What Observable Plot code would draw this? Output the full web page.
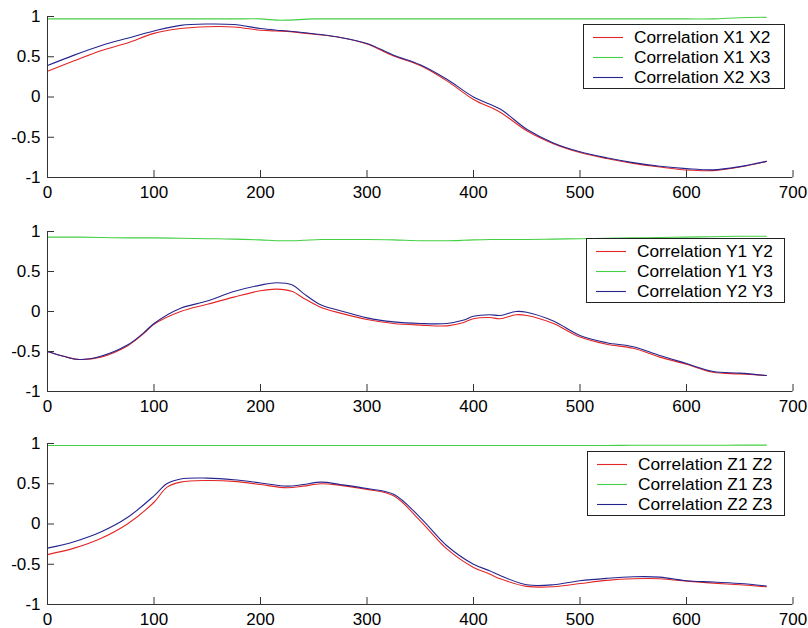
<!DOCTYPE html>
<html><head><meta charset="utf-8">
<script src="https://cdn.jsdelivr.net/npm/d3@7"></script>
<script src="https://cdn.jsdelivr.net/npm/@observablehq/plot@0.6"></script>
<style>
body{margin:0;background:#fff;font-family:"Liberation Sans",Arial,sans-serif;}
#chart{position:relative;width:808px;height:628px;overflow:hidden}
.panel{position:relative;width:808px;}
.panel > svg{display:block}
.legend{position:absolute;border:1px solid #222;background:#fff;box-sizing:border-box;font-size:17.3px;padding-top:2px;color:#000}
.row{height:20px;display:flex;align-items:center;white-space:nowrap}
.row svg{display:block;margin-left:9px;margin-right:11px}
</style></head><body><div id="chart"></div><script>
// ---- tick labels ----
const xTicks = [0, 100, 200, 300, 400, 500, 600, 700];
const yTicks = [-1, -0.5, 0, 0.5, 1];

// ---- panel X ----
const xX = [0,25,50,75,100,125,150,175,200,215,225,250,275,300,325,350,375,400,425,450,475,500,525,550,575,600,625,650,675];
const corrX1X2 = [0.32,0.45,0.575,0.67,0.79,0.85,0.873,0.87,0.83,0.82,0.815,0.78,0.74,0.658,0.51,0.39,0.20,-0.03,-0.19,-0.42,-0.58,-0.69,-0.765,-0.825,-0.87,-0.907,-0.915,-0.87,-0.80];
const corrX1X3 = [0.97,0.97,0.97,0.97,0.97,0.97,0.97,0.97,0.97,0.955,0.955,0.97,0.97,0.97,0.97,0.97,0.97,0.97,0.97,0.97,0.97,0.97,0.97,0.97,0.97,0.97,0.97,0.985,0.99];
const corrX2X3 = [0.39,0.52,0.637,0.73,0.82,0.89,0.907,0.90,0.85,0.83,0.82,0.785,0.74,0.665,0.52,0.40,0.22,0.00,-0.15,-0.40,-0.57,-0.68,-0.755,-0.815,-0.86,-0.89,-0.905,-0.865,-0.80];

// ---- panel Y ----
const xY = [0,15,30,50,75,90,100,125,150,175,200,215,230,240,257,275,300,325,350,375,390,400,415,425,440,450,475,500,525,550,575,600,625,650,675];
const corrY1Y2 = [-0.50,-0.56,-0.60,-0.57,-0.43,-0.28,-0.16,0.00,0.09,0.18,0.26,0.28,0.25,0.17,0.05,-0.02,-0.10,-0.15,-0.17,-0.18,-0.14,-0.09,-0.075,-0.09,-0.04,-0.05,-0.15,-0.32,-0.41,-0.46,-0.57,-0.66,-0.76,-0.78,-0.80];
const corrY1Y3 = [0.93,0.93,0.93,0.925,0.92,0.92,0.92,0.915,0.91,0.905,0.895,0.885,0.885,0.89,0.90,0.90,0.90,0.895,0.885,0.885,0.89,0.895,0.90,0.90,0.90,0.90,0.905,0.91,0.915,0.92,0.925,0.93,0.935,0.94,0.94];
const corrY2Y3 = [-0.50,-0.56,-0.60,-0.56,-0.42,-0.27,-0.15,0.04,0.13,0.25,0.33,0.36,0.33,0.23,0.08,0.01,-0.08,-0.13,-0.15,-0.15,-0.11,-0.06,-0.04,-0.05,0.00,-0.01,-0.12,-0.30,-0.39,-0.44,-0.55,-0.65,-0.75,-0.77,-0.80];

// ---- panel Z ----
const xZ = [0,25,50,75,100,112,125,150,175,200,225,240,257,275,300,325,350,375,400,415,425,450,475,500,525,550,575,600,625,650,675];
const corrZ1Z2 = [-0.38,-0.30,-0.18,0.00,0.27,0.455,0.52,0.54,0.53,0.49,0.45,0.47,0.50,0.48,0.43,0.35,0.04,-0.31,-0.54,-0.62,-0.68,-0.775,-0.78,-0.74,-0.70,-0.68,-0.68,-0.71,-0.735,-0.755,-0.78];
const corrZ1Z3 = [0.975,0.975,0.975,0.975,0.975,0.975,0.975,0.975,0.975,0.975,0.975,0.975,0.975,0.975,0.975,0.975,0.975,0.975,0.975,0.975,0.975,0.975,0.975,0.975,0.975,0.978,0.978,0.978,0.978,0.98,0.98];
const corrZ2Z3 = [-0.30,-0.22,-0.10,0.08,0.35,0.50,0.56,0.57,0.55,0.51,0.47,0.49,0.52,0.49,0.44,0.37,0.08,-0.27,-0.50,-0.58,-0.64,-0.755,-0.755,-0.705,-0.675,-0.656,-0.66,-0.705,-0.72,-0.74,-0.77];

const colors = ["#e32626", "#44d044", "#25258f"];

const panels = [
  {x: xX, series: [["Correlation X1 X2", corrX1X2], ["Correlation X1 X3", corrX1X3], ["Correlation X2 X3", corrX2X3]],
   height: 213, mt: 16, mb: 36, legend: {left: 583, top: 24, w: 202, h: 65}},
  {x: xY, series: [["Correlation Y1 Y2", corrY1Y2], ["Correlation Y1 Y3", corrY1Y3], ["Correlation Y2 Y3", corrY2Y3]],
   height: 213, mt: 18, mb: 35, legend: {left: 586, top: 25, w: 199, h: 65}},
  {x: xZ, series: [["Correlation Z1 Z2", corrZ1Z2], ["Correlation Z1 Z3", corrZ1Z3], ["Correlation Z2 Z3", corrZ2Z3]],
   height: 202, mt: 17, mb: 24, legend: {left: 587, top: 25, w: 198, h: 65}}
];

const W = 808, ML = 47, MR = 15.5, TICK = 7;
const xDomain = [0, 700], yDomain = [-1, 1];
const chart = document.getElementById("chart");
for (const p of panels) {
  const div = document.createElement("div");
  div.className = "panel";
  div.style.height = p.height + "px";
  // inward tick length converted to data units from the panel's pixel size
  const xTickLen = TICK * (xDomain[1] - xDomain[0]) / (W - ML - MR);
  const yTickLen = TICK * (yDomain[1] - yDomain[0]) / (p.height - p.mt - p.mb);
  const lineMarks = p.series.map(([label, vals], i) =>
    Plot.line(p.x.map((x, j) => ({x, y: vals[j]})), {x: "x", y: "y", stroke: colors[i], strokeWidth: 1.1, curve: "catmull-rom"}));
  const svg = Plot.plot({
    width: W, height: p.height,
    marginLeft: ML, marginRight: MR, marginTop: p.mt, marginBottom: p.mb,
    x: {domain: xDomain},
    y: {domain: yDomain},
    style: {fontFamily: "'Liberation Sans', Arial, sans-serif", fontSize: "17px", color: "#000", background: "#fff"},
    marks: [
      ...lineMarks,
      Plot.ruleY([yDomain[0]], {stroke: "#333"}),
      Plot.ruleX([xDomain[0]], {stroke: "#333"}),
      Plot.ruleX(xTicks, {x: d => d, y1: yDomain[0], y2: yDomain[0] + yTickLen, stroke: "#333"}),
      Plot.ruleY(yTicks, {y: d => d, x1: xDomain[0], x2: xDomain[0] + xTickLen, stroke: "#333"}),
      Plot.axisX({ticks: xTicks, tickSize: 0, tickPadding: 8, tickFormat: d => String(d), label: null}),
      Plot.axisY({ticks: yTicks, tickSize: 0, tickPadding: 7, tickFormat: d => String(d), label: null})
    ]
  });
  div.appendChild(svg);
  const lg = document.createElement("div");
  lg.className = "legend";
  Object.assign(lg.style, {left: p.legend.left + "px", top: p.legend.top + "px", width: p.legend.w + "px", height: p.legend.h + "px"});
  p.series.forEach(([label], i) => {
    const r = document.createElement("div");
    r.className = "row";
    r.innerHTML = `<svg width="30" height="3"><line x1="0" x2="30" y1="1.5" y2="1.5" stroke="${colors[i]}" stroke-width="1.1"/></svg>`;
    const t = document.createElement("span");
    t.textContent = label;
    r.appendChild(t);
    lg.appendChild(r);
  });
  div.appendChild(lg);
  chart.appendChild(div);
}
</script></body></html>
